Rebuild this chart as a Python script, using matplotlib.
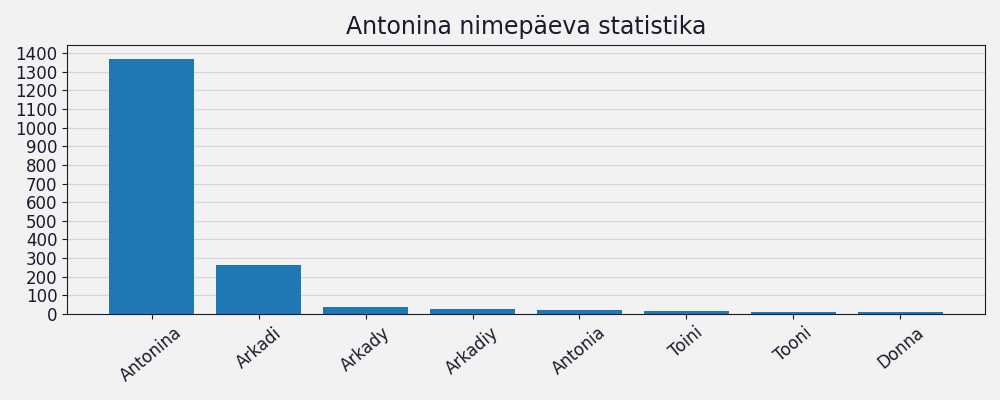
import matplotlib.pyplot as plt

names = ["Antonina", "Arkadi", "Arkady", "Arkadiy", "Antonia", "Toini", "Tooni", "Donna"]
counts = [1368, 263, 39, 29, 23, 18, 12, 12]
yticks = list(range(0, 1401, 100))

bg = "#f2f2f2"
txt = "#1a1a2e"

fig, ax = plt.subplots(figsize=(10, 4), dpi=100)
fig.patch.set_facecolor(bg)
ax.set_facecolor(bg)

ax.bar(names, counts, width=0.8, color="#1f77b4", zorder=3)
ax.set_yticks(yticks)
ax.set_ylim(0, 1443)
ax.grid(axis="y", color="#d5d5d5", linewidth=0.9, zorder=0)
ax.set_title("Antonina nimepäeva statistika", fontsize=17, color=txt, pad=8)
ax.tick_params(axis="both", labelsize=12, colors=txt)
plt.setp(ax.get_xticklabels(), rotation=40)
for s in ax.spines.values():
    s.set_color(txt)

plt.subplots_adjust(left=0.067, right=0.985, top=0.887, bottom=0.215)
plt.savefig("out.png", facecolor=bg)
